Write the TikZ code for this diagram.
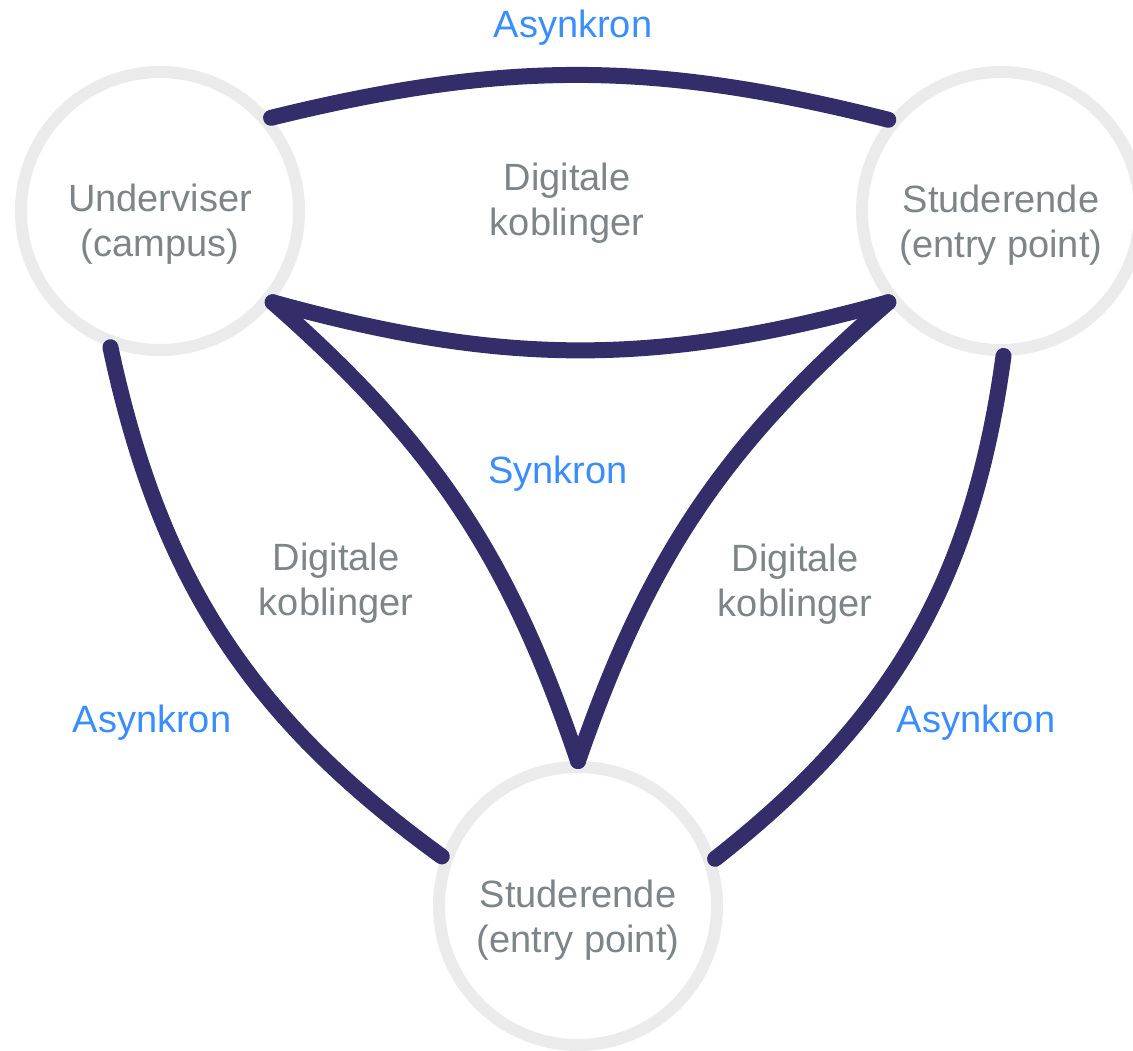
\documentclass[tikz,border=0pt]{standalone}
\usepackage{fontspec}
\setmainfont{Liberation Sans}
\usetikzlibrary{positioning}
\definecolor{navy}{RGB}{51,45,106}
\definecolor{ringgray}{RGB}{235,235,235}
\definecolor{txtgray}{RGB}{125,133,136}
\definecolor{modeblue}{RGB}{58,141,255}
\tikzset{ring/.style = {draw = ringgray, line width = 12, circle, minimum size = 278, inner sep = 0}}
\tikzset{link/.style = {draw = navy, line width = 16, line cap = round}}
\tikzset{lbl/.style = {text = txtgray, align = center, font = \fontsize{38}{45}\selectfont}}
\tikzset{mode/.style = {text = modeblue, anchor = base, font = \fontsize{38}{45}\selectfont}}

\begin{document}
\begin{tikzpicture}[x = 1pt, y = 1pt]
      \useasboundingbox (0, 0) rectangle (1133, -1050);
      \node [ring] (U) at (160, -211) {};
      \node [ring] (S1) at (1001, -211) {};
      \node [ring] (S2) at (578, -906) {};
      \draw [link] (U.40) to [bend left = 14] (S1.141);
      \draw [link] (U.-39) to [bend right = 15.5] (S1.-141);
      \draw [link] (U.-39) to [bend left = 15] (S2.90);
      \draw [link] (S1.-141) to [bend right = 15] (S2.90);
      \draw [link] (U.-110) to [bend right = 21] (S2.160);
      \draw [link] (S2.19) to [bend right = 22] (S1.-89);
      \node [lbl] (tU) at (160, -224) {Underviser\\(campus)};
      \node [lbl] (tS1) at (1001, -225) {Studerende\\(entry point)};
      \node [lbl] (tS2) at (578, -920) {Studerende\\(entry point)};
      \node [lbl] (dTop) at (567, -203) {Digitale\\koblinger};
      \node [lbl] (dL) at (336, -583) {Digitale\\koblinger};
      \node [lbl] (dR) at (795, -584) {Digitale\\koblinger};
      \node [mode] (aTop) at (573, -37) {Asynkron};
      \node [mode] (sync) at (558, -483) {Synkron};
      \node [mode] (aL) at (152, -732) {Asynkron};
      \node [mode] (aR) at (976, -732) {Asynkron};
    \end{tikzpicture}
\end{document}
